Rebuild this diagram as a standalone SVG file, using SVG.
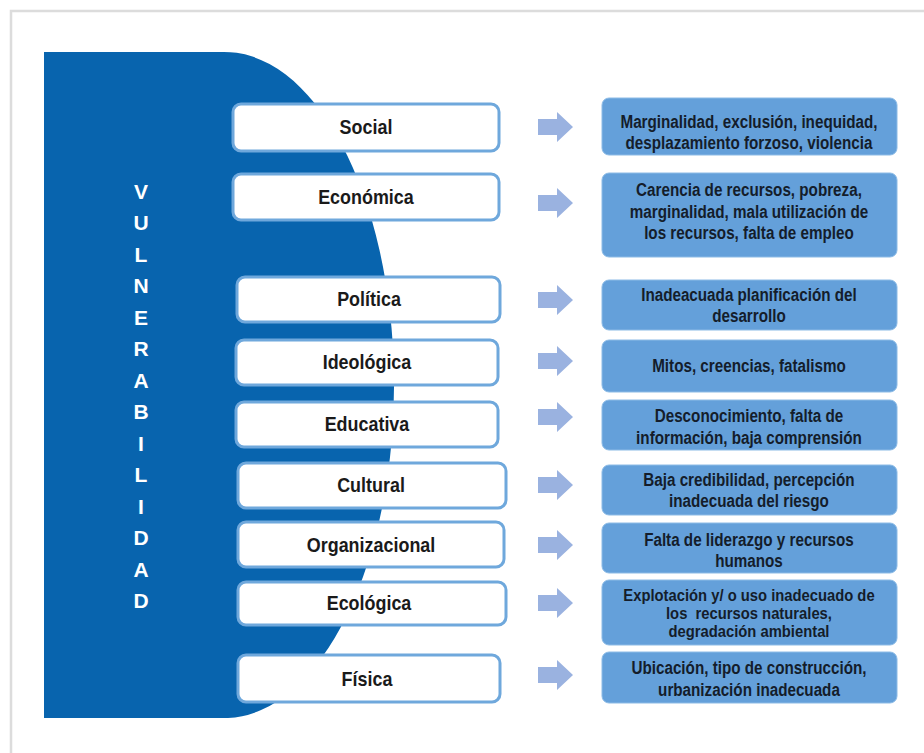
<svg xmlns="http://www.w3.org/2000/svg" width="924" height="753" viewBox="0 0 924 753">
<defs>
<style>
.frame{fill:none;stroke:#dcdcdc;stroke-width:2.5}
.lbox{fill:#ffffff;stroke:#6fa8dc;stroke-width:3}
.rbox{fill:#64a0da;stroke:#8cbbe6;stroke-width:1}
.ltxt{font-family:"Liberation Sans",Arial,sans-serif;font-weight:bold;font-size:19.5px;fill:#1a1a1a;text-anchor:middle}
.rtxt{font-family:"Liberation Sans",Arial,sans-serif;font-weight:bold;font-size:17.5px;fill:#141d2b;text-anchor:middle}
.vtxt{font-family:"Liberation Sans",Arial,sans-serif;font-weight:bold;font-size:21px;fill:#ffffff;text-anchor:middle}
.arrow{fill:#9ab2e0}
</style>
<path id="arr" d="M0,-8 H19 V-15 L35,0 L19,15 V8 H0 Z"/>
</defs>
<rect width="924" height="753" fill="#ffffff"/>
<path class="frame" d="M11,753 V11 H924"/>

<g id="vulnerabilidad">
<path d="M44,52 H220 A170,333 0 0 1 228,718 H44 Z" fill="#0864ae"/>
<text class="vtxt" x="141" y="199">V</text>
<text class="vtxt" x="141" y="230">U</text>
<text class="vtxt" x="141" y="262">L</text>
<text class="vtxt" x="141" y="293">N</text>
<text class="vtxt" x="141" y="325">E</text>
<text class="vtxt" x="141" y="356">R</text>
<text class="vtxt" x="141" y="388">A</text>
<text class="vtxt" x="141" y="419">B</text>
<text class="vtxt" x="141" y="451">I</text>
<text class="vtxt" x="141" y="482">L</text>
<text class="vtxt" x="141" y="514">I</text>
<text class="vtxt" x="141" y="545">D</text>
<text class="vtxt" x="141" y="577">A</text>
<text class="vtxt" x="141" y="608">D</text>
</g>

<g id="social"><rect class="lbox" x="233" y="104" width="266" height="47" rx="8"/><g transform="scale(0.92 1)"><text class="ltxt" x="397.8" y="134">Social</text></g></g>
<g id="economica"><rect class="lbox" x="233" y="174" width="266" height="46" rx="8"/><g transform="scale(0.92 1)"><text class="ltxt" x="397.8" y="204">Económica</text></g></g>
<g id="politica"><rect class="lbox" x="237" y="277" width="263" height="45" rx="8"/><g transform="scale(0.92 1)"><text class="ltxt" x="401.1" y="306">Política</text></g></g>
<g id="ideologica"><rect class="lbox" x="236" y="340" width="262" height="45" rx="8"/><g transform="scale(0.92 1)"><text class="ltxt" x="398.9" y="369">Ideológica</text></g></g>
<g id="educativa"><rect class="lbox" x="236" y="402" width="262" height="45" rx="8"/><g transform="scale(0.92 1)"><text class="ltxt" x="398.9" y="431">Educativa</text></g></g>
<g id="cultural"><rect class="lbox" x="238" y="463" width="268" height="45" rx="8"/><g transform="scale(0.92 1)"><text class="ltxt" x="403.3" y="492">Cultural</text></g></g>
<g id="organizacional"><rect class="lbox" x="238" y="522" width="266" height="45" rx="8"/><g transform="scale(0.92 1)"><text class="ltxt" x="403.3" y="552">Organizacional</text></g></g>
<g id="ecologica"><rect class="lbox" x="238" y="582" width="268" height="43" rx="8"/><g transform="scale(0.92 1)"><text class="ltxt" x="401.1" y="610">Ecológica</text></g></g>
<g id="fisica"><rect class="lbox" x="238" y="655" width="262" height="47" rx="8"/><g transform="scale(0.92 1)"><text class="ltxt" x="398.9" y="686">Física</text></g></g>

<g id="connectors">
<use href="#arr" class="arrow" x="538" y="127"/>
<use href="#arr" class="arrow" x="538" y="203"/>
<use href="#arr" class="arrow" x="538" y="300"/>
<use href="#arr" class="arrow" x="538" y="361"/>
<use href="#arr" class="arrow" x="538" y="417"/>
<use href="#arr" class="arrow" x="538" y="485"/>
<use href="#arr" class="arrow" x="538" y="545"/>
<use href="#arr" class="arrow" x="538" y="603"/>
<use href="#arr" class="arrow" x="538" y="675"/>
</g>

<g id="r-social"><rect class="rbox" x="602" y="98" width="295" height="57" rx="7"/>
<g transform="scale(0.87 1)">
<text class="rtxt" x="860.9" y="128">Marginalidad, exclusión, inequidad,</text>
<text class="rtxt" x="860.9" y="149">desplazamiento forzoso, violencia</text></g></g>
<g id="r-economica"><rect class="rbox" x="602" y="173" width="295" height="84" rx="7"/>
<g transform="scale(0.87 1)">
<text class="rtxt" x="860.9" y="196">Carencia de recursos, pobreza,</text>
<text class="rtxt" x="860.9" y="218">marginalidad, mala utilización de</text>
<text class="rtxt" x="860.9" y="239">los recursos, falta de empleo</text></g></g>
<g id="r-politica"><rect class="rbox" x="602" y="280" width="295" height="50" rx="7"/>
<g transform="scale(0.87 1)">
<text class="rtxt" x="860.9" y="301">Inadeacuada planificación del</text>
<text class="rtxt" x="860.9" y="322">desarrollo</text></g></g>
<g id="r-ideologica"><rect class="rbox" x="602" y="340" width="295" height="52" rx="7"/>
<g transform="scale(0.87 1)">
<text class="rtxt" x="860.9" y="372">Mitos, creencias, fatalismo</text></g></g>
<g id="r-educativa"><rect class="rbox" x="602" y="400" width="295" height="50" rx="7"/>
<g transform="scale(0.87 1)">
<text class="rtxt" x="860.9" y="422">Desconocimiento, falta de</text>
<text class="rtxt" x="860.9" y="444">información, baja comprensión</text></g></g>
<g id="r-cultural"><rect class="rbox" x="602" y="465" width="295" height="50" rx="7"/>
<g transform="scale(0.87 1)">
<text class="rtxt" x="860.9" y="486">Baja credibilidad, percepción</text>
<text class="rtxt" x="860.9" y="507">inadecuada del riesgo</text></g></g>
<g id="r-organizacional"><rect class="rbox" x="602" y="523" width="295" height="50" rx="7"/>
<g transform="scale(0.87 1)">
<text class="rtxt" x="860.9" y="546">Falta de liderazgo y recursos</text>
<text class="rtxt" x="860.9" y="567">humanos</text></g></g>
<g id="r-ecologica"><rect class="rbox" x="602" y="580" width="295" height="65" rx="7"/>
<g transform="scale(0.87 1)">
<text class="rtxt" x="860.9" y="601" style="font-size:17px">Explotación y/ o uso inadecuado de</text>
<text class="rtxt" x="860.9" y="619" style="font-size:17px" xml:space="preserve">los  recursos naturales,</text>
<text class="rtxt" x="860.9" y="637" style="font-size:17px">degradación ambiental</text></g></g>
<g id="r-fisica"><rect class="rbox" x="602" y="652" width="295" height="51" rx="7"/>
<g transform="scale(0.87 1)">
<text class="rtxt" x="860.9" y="674">Ubicación, tipo de construcción,</text>
<text class="rtxt" x="860.9" y="696">urbanización inadecuada</text></g></g>
</svg>
